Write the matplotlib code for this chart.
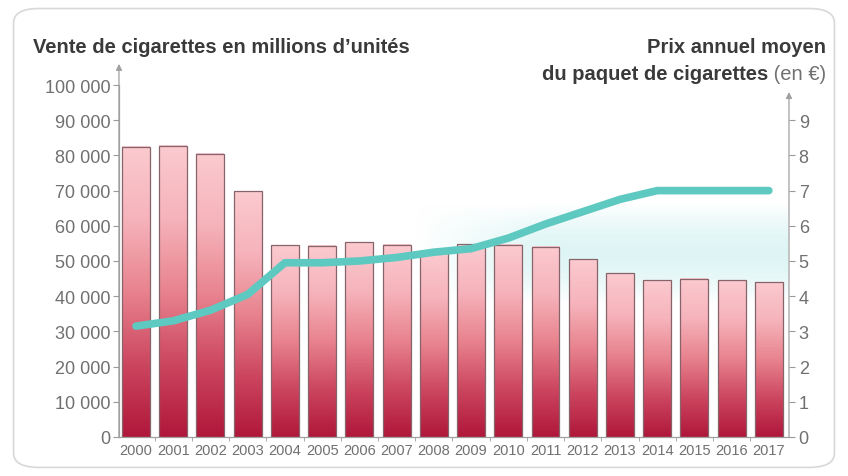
import numpy as np
import matplotlib
matplotlib.use("Agg")
import matplotlib.pyplot as plt
from matplotlib.colors import LinearSegmentedColormap
from matplotlib.patches import FancyBboxPatch

# data
years = [str(y) for y in range(2000, 2018)]
ventes = [82500, 82800, 80500, 69800, 54500, 54300, 55400, 54600, 52500,
          54700, 54600, 54100, 50500, 46500, 44600, 45000, 44600, 44000]
prix = [3.15, 3.3, 3.6, 4.05, 4.95, 4.95, 5.0, 5.1, 5.25,
        5.35, 5.65, 6.05, 6.4, 6.75, 7.0, 7.0, 7.0, 7.0]
left_ticks = list(range(0, 100001, 10000))
right_ticks = list(range(0, 10))

grey = "#707070"
title_col = "#3a3a3a"
font = ["Liberation Sans Narrow", "Liberation Sans", "DejaVu Sans"]
plt.rcParams["font.family"] = font

fig = plt.figure(figsize=(8.48, 4.77), dpi=100)
frame = FancyBboxPatch((0.016, 0.018), 0.968, 0.962,
                       boxstyle="round,pad=0,rounding_size=0.03",
                       transform=fig.transFigure, fc="none",
                       ec="#d8d8d8", lw=1.2, zorder=-5)
fig.patches.append(frame)

ax = fig.add_axes([0.1403, 0.0818, 0.7901, 0.7379])
ax.patch.set_alpha(0)
x = np.arange(len(years))
w = 0.75

# faint turquoise glow behind the right part of the chart, soft on all sides
vy = np.sin(np.linspace(0, np.pi, 128))[:, None]
hx = np.clip(np.linspace(0, 3, 256), 0, 1)[None, :]
glow = np.zeros((128, 256, 4))
glow[..., 0], glow[..., 1], glow[..., 2] = 0.86, 0.96, 0.96
glow[..., 3] = vy * hx * 0.9
ax.imshow(glow, origin="lower", aspect="auto",
          extent=(7.5, 17.5, 38000, 66000), zorder=1)

cmap = LinearSegmentedColormap.from_list(
    "bar", ["#b0173a", "#cc4660", "#e8838e", "#f6b3bb", "#fbcacf"])
grad = np.linspace(0, 1, 256).reshape(-1, 1)
bars = ax.bar(x, ventes, width=w, color="none", edgecolor="#86646a", lw=0.9, zorder=3)
for b in bars:
    ax.imshow(grad, cmap=cmap, origin="lower", aspect="auto",
              extent=(b.get_x(), b.get_x() + b.get_width(), 0, b.get_height()),
              zorder=2)

ax.set_xlim(-0.457, 17.54)
ax.set_ylim(0, 100000)
ax.set_yticks(left_ticks)
ax.set_yticklabels([f"{v:,}".replace(",", " ") for v in left_ticks])
ax.set_xticks(x)
ax.set_xticklabels(years)
ax.set_xticks(x[:-1] + 0.5, minor=True)
ax.tick_params(axis="x", which="major", length=0, labelsize=10.5, colors=grey, pad=4)
ax.tick_params(axis="x", which="minor", length=3, color="#9a9a9a")
ax.tick_params(axis="y", length=4, color="#9a9a9a", labelsize=13, labelcolor=grey, pad=2)
for s in ["top", "right"]:
    ax.spines[s].set_visible(False)
for s in ["left", "bottom"]:
    ax.spines[s].set_color("#a0a0a0")
    ax.spines[s].set_linewidth(0.9)

ax2 = ax.twinx()
ax2.set_ylim(0, 10)
ax2.set_yticks(right_ticks)
ax2.tick_params(axis="y", length=4, color="#9a9a9a", labelsize=13, labelcolor=grey, pad=3)
for s in ["top", "left", "bottom", "right"]:
    ax2.spines[s].set_visible(False)
ax2.plot(x, prix, color="#5ec9c1", lw=5.5, solid_capstyle="round", zorder=5)

# axis arrows
ax.annotate("", xy=(-0.457, 106000), xytext=(-0.457, 0),
            xycoords="data", annotation_clip=False,
            arrowprops=dict(arrowstyle="-|>", color="#a0a0a0",
                            lw=0.9, mutation_scale=9, shrinkA=0, shrinkB=0))
ax2.annotate("", xy=(17.54, 9.8), xytext=(17.54, 0),
             xycoords="data", annotation_clip=False,
             arrowprops=dict(arrowstyle="-|>", color="#a0a0a0",
                             lw=0.9, mutation_scale=9, shrinkA=0, shrinkB=0))

fig.text(0.039, 0.9, "Vente de cigarettes en millions d\u2019unités",
         fontsize=14.5, fontweight="bold", color=title_col, va="center", ha="left")
fig.text(0.974, 0.9, "Prix annuel moyen",
         fontsize=14.5, fontweight="bold", color=title_col, va="center", ha="right")
t = fig.text(0.974, 0.843, " (en €)", fontsize=14.5, color=grey, va="center", ha="right")
fig.canvas.draw()
bb = t.get_window_extent()
fig.text(bb.x0 / fig.bbox.width, 0.843, "du paquet de cigarettes",
         fontsize=14.5, fontweight="bold", color=title_col, va="center", ha="right")

fig.savefig("out.png", dpi=100)
